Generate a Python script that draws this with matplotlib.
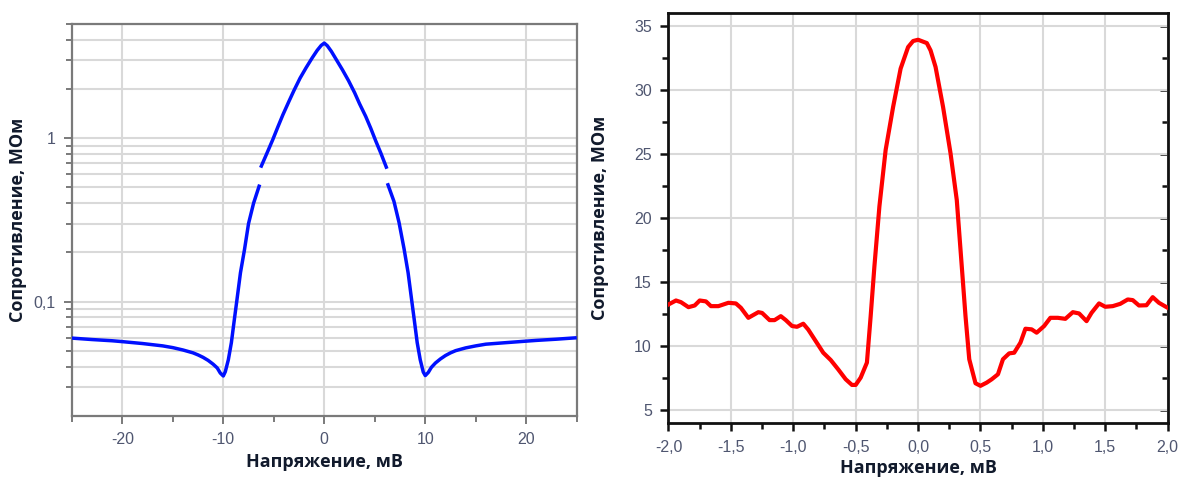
import numpy as np
import matplotlib
matplotlib.use("Agg")
import matplotlib.pyplot as plt
from matplotlib.ticker import FixedLocator, FuncFormatter

# ---- data: resistance vs voltage, wide sweep (log scale) ----
# outer branches and central peak are separate segments (range switch gap)
v_wide_left = [-25, -23, -21, -20, -18, -16, -15, -14, -13, -12.5, -12, -11.5, -11,
               -10.6, -10.3, -10.0, -9.8, -9.5, -9.2, -8.9, -8.67, -8.3, -7.9, -7.5,
               -7.0, -6.4]
r_wide_left = [0.0597, 0.0585, 0.0575, 0.0568, 0.0553, 0.0535, 0.0522, 0.0505, 0.0485,
               0.0471, 0.0455, 0.0436, 0.0413, 0.0392, 0.0365, 0.0350, 0.0372, 0.0440,
               0.0560, 0.0780, 0.100, 0.150, 0.208, 0.300, 0.400, 0.520]

v_wide_mid = [-6.3, -5.6, -5.1, -4.6, -4.1, -3.5, -3.0, -2.4, -1.8, -1.2, -0.7, -0.3, 0.0,
              0.3, 0.7, 1.2, 1.8, 2.4, 3.0, 3.5, 4.1, 4.6, 5.1, 5.6, 6.2]
r_wide_mid = [0.66, 0.83, 0.98, 1.17, 1.39, 1.68, 1.96, 2.33, 2.70, 3.10, 3.45, 3.70, 3.82,
              3.68, 3.40, 3.02, 2.62, 2.25, 1.90, 1.62, 1.36, 1.15, 0.96, 0.81, 0.65]

v_wide_right = [6.25, 6.9, 7.4, 7.9, 8.3, 8.67, 8.9, 9.2, 9.5, 9.8, 10.0, 10.3, 10.6,
                11.0, 11.5, 12.0, 12.5, 13, 14, 15, 16, 18, 20, 21, 23, 25]
r_wide_right = [0.530, 0.410, 0.305, 0.210, 0.150, 0.100, 0.078, 0.056, 0.044, 0.037,
                0.0352, 0.0368, 0.0395, 0.0420, 0.0445, 0.0467, 0.0485, 0.0500, 0.0520,
                0.0535, 0.0548, 0.0560, 0.0572, 0.0578, 0.0588, 0.0600]

# ---- data: resistance vs voltage, narrow sweep (linear scale) ----
v_narrow = [-2.0, -1.94, -1.9, -1.84, -1.79, -1.75, -1.70, -1.66, -1.6, -1.52, -1.46,
            -1.42, -1.36, -1.28, -1.25, -1.19, -1.15, -1.10, -1.06, -1.01, -0.97, -0.92,
            -0.88, -0.82, -0.76, -0.70, -0.64, -0.58, -0.53, -0.50, -0.46, -0.41, -0.38,
            -0.35, -0.31, -0.26, -0.20, -0.14, -0.08, -0.04, 0.0, 0.07, 0.10, 0.14, 0.20,
            0.26, 0.31, 0.35, 0.38, 0.41, 0.46, 0.50, 0.55, 0.59, 0.64, 0.68, 0.73, 0.77,
            0.82, 0.86, 0.91, 0.95, 1.01, 1.06, 1.12, 1.18, 1.24, 1.29, 1.35, 1.39, 1.45,
            1.50, 1.56, 1.62, 1.68, 1.72, 1.77, 1.83, 1.88, 1.93, 2.0]
r_narrow = [13.26, 13.57, 13.44, 13.05, 13.18, 13.57, 13.50, 13.13, 13.13, 13.39, 13.34,
            13.00, 12.22, 12.66, 12.60, 12.04, 12.04, 12.35, 12.04, 11.58, 11.52, 11.76,
            11.30, 10.40, 9.50, 8.93, 8.20, 7.43, 6.99, 6.99, 7.56, 8.73, 12.35, 16.23,
            20.90, 25.30, 28.66, 31.64, 33.32, 33.79, 33.89, 33.63, 33.06, 31.77, 28.66,
            25.04, 21.40, 16.23, 12.35, 8.99, 7.12, 6.92, 7.17, 7.43, 7.82, 8.99, 9.45,
            9.50, 10.28, 11.37, 11.32, 11.06, 11.58, 12.22, 12.22, 12.14, 12.66, 12.56,
            11.96, 12.61, 13.34, 13.08, 13.13, 13.31, 13.65, 13.60, 13.18, 13.20, 13.83,
            13.39, 13.00]

x_label = "Напряжение, мВ"
y_label = "Сопротивление, МОм"

label_font = dict(family=["Open Sans", "DejaVu Sans"], fontsize=13, fontweight="bold",
                  color="#111a2c")
tick_family = ["Liberation Sans", "DejaVu Sans"]
tick_color = "#4f5670"
tick_size = 11.5


def comma(val, pos=None, fmt="{:.1f}"):
    return fmt.format(val).replace(".", ",")


fig = plt.figure(figsize=(11.79, 4.82), dpi=100)

# ================= left panel =================
ax1 = fig.add_axes([0.0609, 0.1376, 0.4283, 0.8126])
ax1.set_yscale("log")
ax1.set_xlim(-25, 25)
ax1.set_ylim(0.02, 5)

blue = "#0010ff"
for vx, ry in ((v_wide_left, r_wide_left), (v_wide_mid, r_wide_mid),
               (v_wide_right, r_wide_right)):
    ax1.plot(vx, ry, color=blue, lw=2.5, solid_capstyle="butt", zorder=3)

ax1.xaxis.set_major_locator(FixedLocator([-20, -10, 0, 10, 20]))
ax1.xaxis.set_minor_locator(FixedLocator([-25, -15, -5, 5, 15, 25]))
ax1.xaxis.set_major_formatter(FuncFormatter(lambda v, p: f"{v:.0f}"))

ax1.yaxis.set_major_locator(FixedLocator([0.1, 1]))
minor_y = [m * 10.0 ** e for e in (-2, -1, 0) for m in range(2, 10)]
minor_y = [v for v in minor_y if 0.02 < v <= 5]
ax1.yaxis.set_minor_locator(FixedLocator(minor_y))
ax1.yaxis.set_major_formatter(FuncFormatter(lambda v, p: "1" if v >= 1 else "0,1"))
ax1.yaxis.set_minor_formatter(FuncFormatter(lambda v, p: ""))

grid_c = "#d9d9d9"
ax1.grid(True, which="major", axis="x", color=grid_c, lw=1.5)
ax1.grid(True, which="both", axis="y", color=grid_c, lw=1.5)
ax1.set_axisbelow(True)

spine_gray = "#7a7a7a"
for s in ax1.spines.values():
    s.set_color(spine_gray)
    s.set_linewidth(1.6)
ax1.tick_params(which="both", direction="out", color=spine_gray, width=1.4,
                top=False, right=False)
ax1.tick_params(which="major", length=6)
ax1.tick_params(which="minor", length=4)
ax1.tick_params(axis="both", labelsize=tick_size, labelcolor=tick_color, pad=6)
for lab in ax1.get_xticklabels() + ax1.get_yticklabels():
    lab.set_family(tick_family)

ax1.set_xlabel(x_label, **label_font)
ax1.set_ylabel(y_label, **label_font)
ax1.xaxis.set_label_coords(0.5, -0.096)
ax1.yaxis.set_label_coords(-0.088, 0.5)

# ================= right panel =================
ax2 = fig.add_axes([0.567, 0.1218, 0.4234, 0.8519])
ax2.set_xlim(-2.0, 2.0)
ax2.set_ylim(4, 36)
ax2.plot(v_narrow, r_narrow, color="#ff0000", lw=3.0, zorder=3)

ax2.xaxis.set_major_locator(FixedLocator(np.arange(-2.0, 2.01, 0.5)))
ax2.xaxis.set_minor_locator(FixedLocator(np.arange(-1.75, 1.8, 0.5)))
ax2.xaxis.set_major_formatter(FuncFormatter(lambda v, p: comma(v)))
ax2.yaxis.set_major_locator(FixedLocator(np.arange(5, 36, 5)))
ax2.yaxis.set_minor_locator(FixedLocator(np.arange(7.5, 35, 5)))
ax2.yaxis.set_major_formatter(FuncFormatter(lambda v, p: f"{v:.0f}"))

ax2.grid(True, which="major", color=grid_c, lw=1.5)
ax2.set_axisbelow(True)
for s in ax2.spines.values():
    s.set_color("#111111")
    s.set_linewidth(2.0)
ax2.tick_params(which="both", direction="out", color="#111111", width=1.8,
                top=False, right=False)
ax2.tick_params(which="major", length=6)
ax2.tick_params(which="minor", length=4)
ax2.tick_params(axis="both", labelsize=tick_size, labelcolor=tick_color, pad=6)
for lab in ax2.get_xticklabels() + ax2.get_yticklabels():
    lab.set_family(tick_family)

# inward ticks on the right spine
ax2r = ax2.secondary_yaxis("right")
ax2r.yaxis.set_major_locator(FixedLocator(np.arange(5, 36, 5)))
ax2r.yaxis.set_minor_locator(FixedLocator(np.arange(7.5, 35, 5)))
ax2r.spines["right"].set_visible(False)
ax2r.tick_params(which="both", direction="in", color="#111111", width=1.8,
                 labelright=False)
ax2r.tick_params(which="major", length=6)
ax2r.tick_params(which="minor", length=4)

ax2.set_xlabel(x_label, **label_font)
ax2.set_ylabel(y_label, **label_font)
ax2.xaxis.set_label_coords(0.5, -0.088)
ax2.yaxis.set_label_coords(-0.12, 0.5)

fig.savefig("out.png", dpi=100, facecolor="white")
